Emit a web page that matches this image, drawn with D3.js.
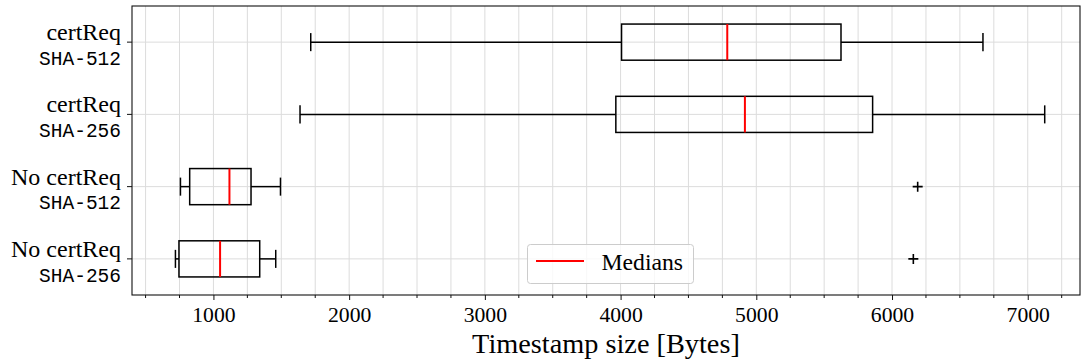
<!DOCTYPE html>
<html>
<head>
<meta charset="utf-8">
<script src="https://cdn.jsdelivr.net/npm/d3@7"></script>
<style>
  body { margin: 0; background: #fff; }
  svg { display: block; overflow: visible; }
</style>
</head>
<body>
<svg width="1081" height="364"></svg>
<script>
// rows from bottom (position 1) to top (position 4)
const labelTop = ["No certReq", "No certReq", "certReq", "certReq"]
const labelBottom = ["SHA-256", "SHA-512", "SHA-256", "SHA-512"]

const whiskerLow = [720, 757, 1638, 1717]
const q1 = [746, 825, 3965, 4007]
const medians = [1049, 1118, 4916, 4786]
const q3 = [1341, 1277, 5857, 5624]
const whiskerHigh = [1459, 1494, 7125, 6670]
const outliers = [[6157], [6189], [], []]

const xTicks = [1000, 2000, 3000, 4000, 5000, 6000, 7000]

const svg = d3.select("svg")
const width = +svg.attr("width")
const height = +svg.attr("height")

const margin = {top: 6, right: 1, bottom: 69, left: 132}
const innerWidth = width - margin.left - margin.right
const innerHeight = height - margin.top - margin.bottom

const serif = "'Liberation Serif', 'Times New Roman', serif"
const mono = "'Liberation Mono', 'DejaVu Sans Mono', monospace"

const data = labelTop.map((t, i) => ({
    pos: i + 1,
    lo: whiskerLow[i], q1: q1[i], med: medians[i], q3: q3[i], hi: whiskerHigh[i],
    fliers: outliers[i]
}))

const xScale = d3.scaleLinear()
      .domain([400, 7385])
      .range([0, innerWidth])

const yScale = d3.scaleLinear()
      .domain([0.5, 4.5])
      .range([innerHeight, 0])

const g = svg.append("g")
      .attr("transform", `translate(${margin.left}, ${margin.top})`)

// grid: major + minor every 250
const gridX = d3.range(500, 7385, 250)
g.append("g").selectAll("line").data(gridX).enter().append("line")
    .attr("x1", d => xScale(d)).attr("x2", d => xScale(d))
    .attr("y1", 0).attr("y2", innerHeight)
    .attr("stroke", "#dcdcdc").attr("stroke-width", 1)

g.append("g").selectAll("line").data(data).enter().append("line")
    .attr("x1", 0).attr("x2", innerWidth)
    .attr("y1", d => yScale(d.pos)).attr("y2", d => yScale(d.pos))
    .attr("stroke", "#dcdcdc").attr("stroke-width", 1)

// boxes
const boxH = yScale(0) - yScale(0.5)
const capH = yScale(0) - yScale(0.25)

const boxes = g.append("g").selectAll("g").data(data).enter().append("g")

boxes.append("line")
    .attr("x1", d => xScale(d.lo)).attr("x2", d => xScale(d.q1))
    .attr("y1", d => yScale(d.pos)).attr("y2", d => yScale(d.pos))
boxes.append("line")
    .attr("x1", d => xScale(d.q3)).attr("x2", d => xScale(d.hi))
    .attr("y1", d => yScale(d.pos)).attr("y2", d => yScale(d.pos))
boxes.append("line")
    .attr("x1", d => xScale(d.lo)).attr("x2", d => xScale(d.lo))
    .attr("y1", d => yScale(d.pos) - capH / 2).attr("y2", d => yScale(d.pos) + capH / 2)
boxes.append("line")
    .attr("x1", d => xScale(d.hi)).attr("x2", d => xScale(d.hi))
    .attr("y1", d => yScale(d.pos) - capH / 2).attr("y2", d => yScale(d.pos) + capH / 2)
boxes.selectAll("line").attr("stroke", "#000").attr("stroke-width", 1.5)

boxes.append("rect")
    .attr("x", d => xScale(d.q1))
    .attr("width", d => xScale(d.q3) - xScale(d.q1))
    .attr("y", d => yScale(d.pos) - boxH / 2)
    .attr("height", boxH)
    .attr("fill", "none").attr("stroke", "#000").attr("stroke-width", 1.5)

boxes.append("line")
    .attr("x1", d => xScale(d.med)).attr("x2", d => xScale(d.med))
    .attr("y1", d => yScale(d.pos) - boxH / 2).attr("y2", d => yScale(d.pos) + boxH / 2)
    .attr("stroke", "#ff0000").attr("stroke-width", 2)

// outliers as "+"
boxes.selectAll("path.flier").data(d => d.fliers.map(v => ({v, pos: d.pos}))).enter()
    .append("path")
    .attr("class", "flier")
    .attr("transform", d => `translate(${xScale(d.v)}, ${yScale(d.pos)})`)
    .attr("d", "M-5,0H5M0,-5V5")
    .attr("stroke", "#000").attr("stroke-width", 1.6)

// frame
g.append("rect")
    .attr("width", innerWidth).attr("height", innerHeight)
    .attr("fill", "none").attr("stroke", "#111").attr("stroke-width", 1.1)

// x axis
const xAxis = g.append("g")
    .attr("transform", `translate(0, ${innerHeight})`)
    .call(d3.axisBottom(xScale).tickValues(xTicks).tickSize(5).tickFormat(d3.format("d")))
xAxis.select(".domain").remove()
xAxis.selectAll("text")
    .attr("font-family", serif).attr("font-size", 21.7).attr("fill", "#000")
    .attr("dy", null).attr("y", 27)
xAxis.selectAll("line").attr("stroke", "#111")

const minor = gridX.filter(v => xTicks.indexOf(v) < 0)
g.append("g").selectAll("line").data(minor).enter().append("line")
    .attr("x1", d => xScale(d)).attr("x2", d => xScale(d))
    .attr("y1", innerHeight).attr("y2", innerHeight + 3)
    .attr("stroke", "#111").attr("stroke-width", 1)

// y ticks and labels
g.append("g").selectAll("line").data(data).enter().append("line")
    .attr("x1", -5).attr("x2", 0)
    .attr("y1", d => yScale(d.pos)).attr("y2", d => yScale(d.pos))
    .attr("stroke", "#111")

const yl = g.append("g").selectAll("g").data(data).enter().append("g")
    .attr("transform", d => `translate(-11, ${yScale(d.pos)})`)
yl.append("text")
    .attr("text-anchor", "end").attr("y", -2)
    .attr("font-family", serif).attr("font-size", 24)
    .text((d, i) => labelTop[i])
yl.append("text")
    .attr("text-anchor", "end").attr("y", 22.7)
    .attr("font-family", mono).attr("font-size", 19.5)
    .text((d, i) => labelBottom[i])

// x label
svg.append("text")
    .attr("x", margin.left + innerWidth / 2).attr("y", 353)
    .attr("text-anchor", "middle")
    .attr("font-family", serif).attr("font-size", 28.3)
    .text("Timestamp size [Bytes]")

// legend
const legend = svg.append("g").attr("transform", "translate(527.5, 244.5)")
legend.append("rect")
    .attr("width", 166).attr("height", 39).attr("rx", 3)
    .attr("fill", "#fff").attr("fill-opacity", 0.8)
    .attr("stroke", "#cccccc").attr("stroke-width", 1)
legend.append("line")
    .attr("x1", 8.5).attr("x2", 56.5).attr("y1", 16.5).attr("y2", 16.5)
    .attr("stroke", "#ff0000").attr("stroke-width", 2)
legend.append("text")
    .attr("x", 74).attr("y", 25.5)
    .attr("font-family", serif).attr("font-size", 23.7)
    .text("Medians")
</script>
</body>
</html>
